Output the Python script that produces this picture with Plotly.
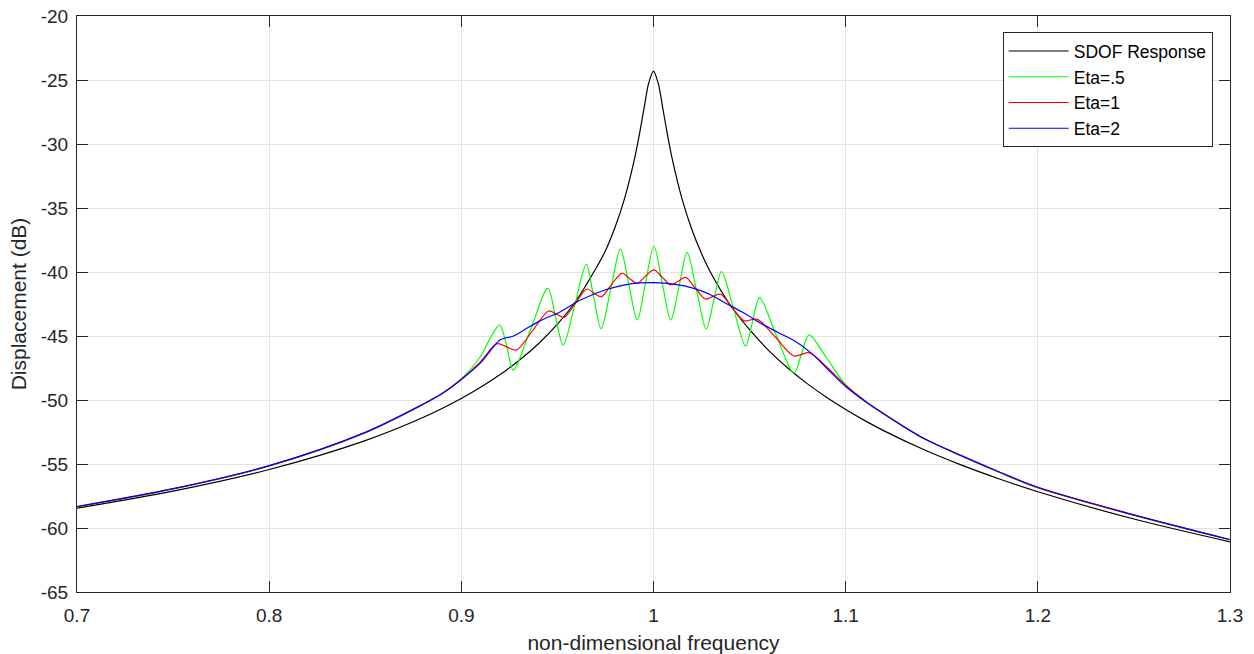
import plotly.graph_objects as go

# ---------------- data ----------------
sdof_x = [0.70, 0.75, 0.80, 0.85, 0.88, 0.90, 0.91, 0.92, 0.93, 0.94, 0.95, 0.96, 0.97, 0.975,
          0.98, 0.985, 0.99, 0.9925, 0.995, 0.9975, 1.0, 1.0025, 1.005, 1.0075, 1.01, 1.015,
          1.02, 1.025, 1.03, 1.04, 1.05, 1.06, 1.07, 1.08, 1.09, 1.10, 1.11, 1.12, 1.14, 1.16,
          1.18, 1.20, 1.25, 1.30]
sdof_y = [-58.45, -57.12, -55.43, -53.17, -51.37, -49.88, -49.01, -48.03, -46.91, -45.62, -44.08,
          -42.19, -39.73, -38.34, -36.51, -34.23, -31.24, -29.38, -27.28, -25.25, -24.3, -25.29,
          -27.35, -29.46, -31.34, -34.37, -36.70, -38.56, -40.12, -42.60, -44.51, -46.14, -47.52,
          -48.72, -49.79, -50.74, -51.61, -52.41, -53.83, -55.07, -56.17, -57.17, -59.30, -61.08]

eta05_x = [0.70, 0.75, 0.80, 0.85, 0.88, 0.89, 0.90, 0.91, 0.916, 0.920, 0.9235, 0.927, 0.936,
           0.945, 0.949, 0.953, 0.959, 0.965, 0.9688, 0.9727, 0.9778, 0.9828, 0.9872, 0.9915,
           0.9958, 1.0002, 1.0046, 1.009, 1.0133, 1.0175, 1.0225, 1.0274, 1.0314, 1.0354, 1.0417,
           1.0479, 1.0515, 1.0552, 1.064, 1.0731, 1.077, 1.0809, 1.09, 1.10, 1.11, 1.12, 1.14,
           1.16, 1.18, 1.20, 1.25, 1.30]
eta05_y = [-58.35, -56.95, -55.15, -52.55, -50.35, -49.5, -48.35, -46.6, -44.9, -44.14, -45.7,
           -47.66, -44.5, -41.28, -43.5, -45.70, -42.6, -39.40, -41.9, -44.43, -41.3, -38.20,
           -41.0, -43.75, -40.9, -37.97, -40.9, -43.75, -41.1, -38.46, -41.5, -44.45, -42.2,
           -39.97, -42.9, -45.78, -43.9, -42.0, -45.0, -47.9, -46.4, -44.92, -46.7, -48.8,
           -50.05, -51.1, -52.95, -54.35, -55.65, -56.85, -59.0, -60.92]

eta1_x = [0.70, 0.75, 0.80, 0.85, 0.88, 0.89, 0.90, 0.91, 0.9186, 0.9236, 0.9286, 0.937, 0.9455,
          0.9496, 0.9536, 0.9595, 0.9654, 0.969, 0.9729, 0.978, 0.9836, 0.9875, 0.9915, 0.996,
          1.0002, 1.0045, 1.0089, 1.013, 1.0167, 1.022, 1.0271, 1.031, 1.0349, 1.041, 1.047,
          1.054, 1.0635, 1.0731, 1.0809, 1.09, 1.10, 1.11, 1.12, 1.14, 1.16, 1.18, 1.20, 1.25, 1.30]
eta1_y = [-58.35, -56.95, -55.15, -52.55, -50.35, -49.5, -48.38, -47.0, -45.6, -45.85, -46.1,
          -44.6, -43.05, -43.3, -43.54, -42.4, -41.33, -41.65, -41.93, -41.0, -40.1, -40.5,
          -40.89, -40.3, -39.84, -40.4, -41.0, -40.7, -40.42, -41.3, -42.11, -41.9, -41.74,
          -42.8, -43.8, -43.7, -45.1, -46.56, -46.3, -47.4, -48.85, -50.08, -51.1, -52.95,
          -54.35, -55.65, -56.85, -59.0, -60.92]

eta2_x = [0.70, 0.75, 0.80, 0.85, 0.88, 0.89, 0.90, 0.91, 0.9203, 0.9272, 0.9341, 0.9411, 0.9516,
          0.962, 0.9759, 0.9897, 1.0002, 1.0105, 1.021, 1.030, 1.0383, 1.047, 1.0557, 1.0645,
          1.0731, 1.0818, 1.09, 1.10, 1.11, 1.12, 1.14, 1.16, 1.18, 1.20, 1.25, 1.30]
eta2_y = [-58.32, -56.93, -55.13, -52.53, -50.33, -49.5, -48.4, -47.1, -45.3, -45.0, -44.4,
          -43.8, -43.1, -42.19, -41.35, -40.89, -40.83, -40.95, -41.28, -41.8, -42.5, -43.2,
          -44.0, -44.7, -45.36, -46.3, -47.5, -48.95, -50.1, -51.1, -52.95, -54.33, -55.62,
          -56.82, -58.97, -60.9]

x_ticks = [0.7, 0.8, 0.9, 1.0, 1.1, 1.2, 1.3]
x_tick_labels = ["0.7", "0.8", "0.9", "1", "1.1", "1.2", "1.3"]
y_ticks = [-65, -60, -55, -50, -45, -40, -35, -30, -25, -20]
y_tick_labels = ["-65", "-60", "-55", "-50", "-45", "-40", "-35", "-30", "-25", "-20"]

series = [
    ("SDOF Response", sdof_x, sdof_y, "#000000"),
    ("Eta=.5", eta05_x, eta05_y, "#00ff00"),
    ("Eta=1", eta1_x, eta1_y, "#ff0000"),
    ("Eta=2", eta2_x, eta2_y, "#0000ff"),
]

# ---------------- figure ----------------
FONT = "Liberation Sans, Arial, Helvetica, sans-serif"
AX = "#262626"

fig = go.Figure()
for name, xs, ys, col in series:
    fig.add_trace(go.Scatter(
        x=xs, y=ys, name=name, mode="lines",
        line=dict(color=col, width=1.2, shape="spline", smoothing=0.9),
    ))

axis_common = dict(
    showgrid=True, gridcolor="#e3e3e3", gridwidth=1,
    showline=True, linecolor=AX, linewidth=1, mirror="allticks",
    ticks="inside", ticklen=11, tickcolor=AX, tickwidth=1,
    zeroline=False, automargin=False,
    tickfont=dict(family=FONT, size=19, color=AX),
)

fig.update_layout(
    width=1254, height=654,
    margin=dict(l=77, r=24, t=16, b=62),
    paper_bgcolor="white", plot_bgcolor="white",
    font=dict(family=FONT, color=AX),
    xaxis=dict(range=[0.7, 1.3], tickvals=x_ticks, ticktext=x_tick_labels,
               ticklabelstandoff=6,
               title=dict(text="non-dimensional frequency", font=dict(family=FONT, size=21, color=AX),
                          standoff=10),
               **axis_common),
    yaxis=dict(range=[-65, -20], tickvals=y_ticks, ticktext=y_tick_labels,
               ticklabelstandoff=4,
               title=dict(text="Displacement (dB)", font=dict(family=FONT, size=21, color=AX),
                          standoff=8),
               **axis_common),
    legend=dict(x=0.985, y=0.972, xanchor="right", yanchor="top",
                bgcolor="white", bordercolor=AX, borderwidth=1,
                font=dict(family=FONT, size=17.5, color="#000000"),
                itemwidth=60, tracegroupgap=0),
    showlegend=True,
)

fig.write_html("out.html", config={"displayModeBar": False},
               post_script="document.body.style.margin='0';")
